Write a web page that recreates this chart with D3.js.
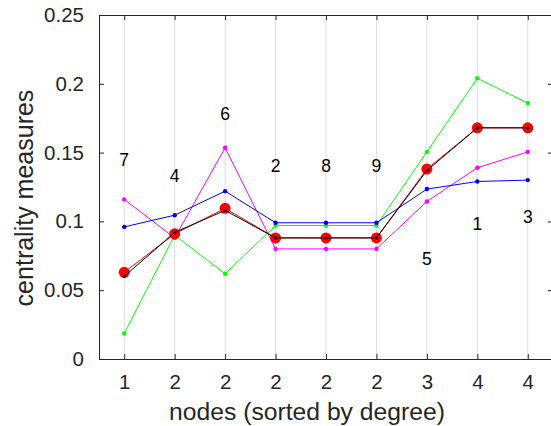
<!DOCTYPE html>
<html>
<head>
<meta charset="utf-8">
<script src="https://cdn.jsdelivr.net/npm/d3@7"></script>
<style>
  body { margin: 0; background: #fff; }
  text { font-family: "Liberation Sans", Arial, sans-serif; }
</style>
</head>
<body>
<div id="chart"></div>
<script>
// x tick labels (node degree, sorted)
var degrees = ["1", "2", "2", "2", "2", "2", "3", "4", "4"];
// node ids written above each column, with their height in data units
var nodeIds = ["7", "4", "6", "2", "8", "9", "5", "1", "3"];
var nodeIdY = [0.145, 0.133, 0.178, 0.140, 0.140, 0.140, 0.073, 0.098, 0.103];

var redVals     = [0.063, 0.091, 0.1095, 0.088, 0.088, 0.088, 0.138, 0.168, 0.168];
var blackVals   = [0.060, 0.092, 0.108, 0.088, 0.088, 0.088, 0.137, 0.168, 0.168];
var blueVals    = [0.096, 0.1045, 0.122, 0.099, 0.099, 0.099, 0.1235, 0.129, 0.130];
var greenVals   = [0.0185, 0.090, 0.062, 0.097, 0.097, 0.097, 0.1505, 0.204, 0.186];
var magentaVals = [0.116, 0.088, 0.1535, 0.080, 0.080, 0.080, 0.1145, 0.139, 0.1505];

var yTicks = [0, 0.05, 0.1, 0.15, 0.2, 0.25];

window.onload = () => {
    var width = 551, height = 426;
    var margin = { top: 15, right: -2, bottom: 67, left: 99 };
    var w = width - margin.left - margin.right,
        h = height - margin.top - margin.bottom;
    var axisColor = "#262626";

    var svg = d3.select("#chart")
        .append("svg")
        .attr("width", width)
        .attr("height", height)
        .style("overflow", "hidden");

    var g = svg.append("g")
        .attr("transform", "translate(" + margin.left + "," + margin.top + ")");

    var x = d3.scaleLinear().domain([0.5, 9.5]).range([0, w]);
    var y = d3.scaleLinear().domain([0, 0.25]).range([h, 0]);
    var idx = d3.range(1, 10);

    // vertical grid
    g.selectAll(".grid")
        .data(idx)
        .enter()
        .append("line")
        .attr("x1", d => x(d)).attr("x2", d => x(d))
        .attr("y1", 0).attr("y2", h)
        .attr("stroke", "#dedede")
        .attr("stroke-width", 1);

    // axes
    var xAxis = g.append("g")
        .attr("transform", "translate(0," + h + ")")
        .call(d3.axisBottom(x).tickValues(idx).tickFormat((d, i) => degrees[i])
            .tickSizeInner(-5).tickSizeOuter(0).tickPadding(15));
    var xTop = g.append("g")
        .call(d3.axisTop(x).tickValues(idx).tickFormat("")
            .tickSizeInner(-5).tickSizeOuter(0));
    var yAxis = g.append("g")
        .call(d3.axisLeft(y).tickValues(yTicks).tickFormat(d => d3.format("")(d))
            .tickSizeInner(-5).tickSizeOuter(0).tickPadding(15));
    var yRight = g.append("g")
        .attr("transform", "translate(" + w + ",0)")
        .call(d3.axisRight(y).tickValues(yTicks).tickFormat("")
            .tickSizeInner(-5).tickSizeOuter(0));

    [xAxis, xTop, yAxis, yRight].forEach(a => {
        a.select(".domain").attr("stroke", axisColor).attr("stroke-width", 1);
        a.selectAll(".tick line").attr("stroke", axisColor);
        a.selectAll("text")
            .attr("fill", axisColor)
            .style("font-size", "20.5px")
            .style("font-family", "Liberation Sans, Arial, sans-serif");
    });

    var line = d3.line()
        .x((d, i) => x(i + 1))
        .y(d => y(d));

    var series = [
        { vals: greenVals, color: "#00ff00", r: 2.2 },
        { vals: magentaVals, color: "#ff00ff", r: 2.2 },
        { vals: blueVals, color: "#0000ff", r: 2.2 },
        { vals: redVals, color: "#ff0000", r: 5.5 },
        { vals: blackVals, color: "#000000", r: 1.6 }
    ];

    series.forEach(s => {
        g.append("path")
            .datum(s.vals)
            .attr("d", line)
            .attr("fill", "none")
            .attr("stroke", s.color)
            .attr("stroke-width", 1);
        g.selectAll(null)
            .data(s.vals)
            .enter()
            .append("circle")
            .attr("cx", (d, i) => x(i + 1))
            .attr("cy", d => y(d))
            .attr("r", s.r)
            .attr("fill", s.color);
    });

    // node id labels
    g.selectAll(".node-id")
        .data(nodeIds)
        .enter()
        .append("text")
        .attr("class", "node-id")
        .attr("x", (d, i) => x(i + 1))
        .attr("y", (d, i) => y(nodeIdY[i]))
        .attr("dy", "0.35em")
        .attr("text-anchor", "middle")
        .style("font-size", "17.5px")
        .attr("fill", "#000")
        .text(d => d);

    // axis titles
    svg.append("text")
        .attr("x", 307)
        .attr("y", 420)
        .attr("text-anchor", "middle")
        .attr("fill", axisColor)
        .style("font-size", "24.7px")
        .text("nodes (sorted by degree)");

    svg.append("text")
        .attr("transform", "translate(33,198) rotate(-90)")
        .attr("text-anchor", "middle")
        .attr("fill", axisColor)
        .style("font-size", "25px")
        .text("centrality measures");
};
</script>
</body>
</html>
